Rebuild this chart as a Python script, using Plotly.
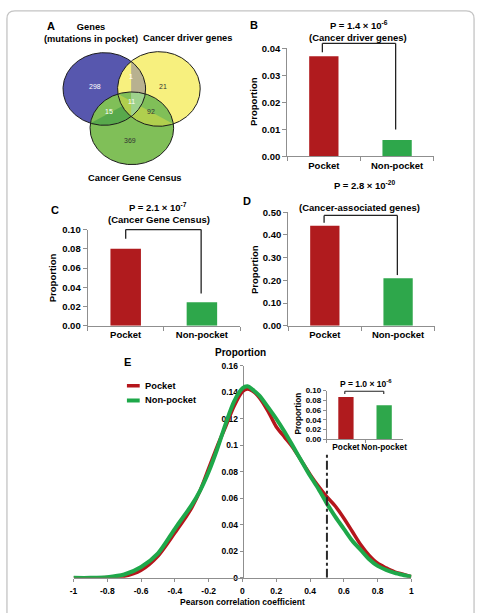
import numpy as np
import plotly.graph_objects as go

W, H = 481, 613

# ---------------- data ----------------
venn_labels = ["Genes<br>(mutations in pocket)", "Cancer driver genes", "Cancer Gene Census"]
venn_blue_only, venn_blue_yellow, venn_yellow_only = 298, 1, 21
venn_triple, venn_blue_green, venn_yellow_green, venn_green_only = 11, 15, 92, 369

groups = ["Pocket", "Non-pocket"]
driver_prop = [0.037, 0.006]
census_prop = [0.080, 0.0245]
assoc_prop = [0.44, 0.21]
inset_prop = [0.087, 0.070]

p_driver = "P = 1.4 × 10<sup>-6</sup>"
p_census = "P = 2.1 × 10<sup>-7</sup>"
p_assoc = "P = 2.8 × 10<sup>-20</sup>"
p_inset = "P = 1.0 × 10<sup>-6</sup>"

corr_x = [-1.0, -0.9, -0.8, -0.7, -0.6, -0.5, -0.4, -0.35, -0.3, -0.25, -0.2, -0.15, -0.1,
          -0.05, 0.0, 0.03, 0.06, 0.1, 0.15, 0.2, 0.25, 0.3, 0.35, 0.4, 0.45, 0.5, 0.55,
          0.6, 0.65, 0.7, 0.75, 0.8, 0.85, 0.9, 0.95, 1.0]
pocket_density = [0.0, 0.0, 0.0002, 0.0012, 0.0058, 0.0165, 0.034, 0.043, 0.053, 0.066, 0.0825,
                  0.099, 0.114, 0.1295, 0.1405, 0.1425, 0.141, 0.136, 0.126, 0.114, 0.106, 0.098,
                  0.088, 0.078, 0.069, 0.061, 0.054, 0.045, 0.035, 0.025, 0.017, 0.011, 0.0075,
                  0.0045, 0.0027, 0.0008]
nonpocket_density = [0.0, 0.0, 0.0005, 0.0025, 0.0082, 0.0185, 0.037, 0.046, 0.055, 0.066, 0.080,
                     0.097, 0.116, 0.133, 0.143, 0.1445, 0.142, 0.1375, 0.129, 0.120, 0.110, 0.099,
                     0.088, 0.077, 0.067, 0.056, 0.046, 0.037, 0.028, 0.021, 0.014, 0.009, 0.006,
                     0.0038, 0.0022, 0.0008]
e_xticks = [-1, -0.8, -0.6, -0.4, -0.2, 0, 0.2, 0.4, 0.6, 0.8, 1]
e_xtick_labels = ["-1", "-0.8", "-0.6", "-0.4", "-0.2", "0", "0.2", "0.4", "0.6", "0.8", "1"]
cutoff = 0.5

# ---------------- styles ----------------
FONT = "Liberation Sans, Arial, sans-serif"
RED_BAR, GREEN_BAR = "#b01b1e", "#2ea74b"
RED_LINE, GREEN_LINE = "#b5161c", "#1ea84a"
AX = "#8f8f8f"


def px(x):
    return x / W


def py(y):
    return 1 - y / H


fig = go.Figure()
annotations = []
shapes = []


def ann(text, x, y, size=9.5, bold=True, angle=0, color="black", xanchor="center", ref=None):
    d = dict(text=text, showarrow=False, textangle=angle, xanchor=xanchor, yanchor="middle",
             font=dict(family=FONT, size=size, color=color, weight="bold" if bold else "normal"))
    if ref is None:
        d.update(x=px(x), y=py(y), xref="paper", yref="paper")
    else:
        d.update(x=x, y=y, xref=ref[0], yref=ref[1])
    annotations.append(d)


# ---------------- Venn (panel A) ----------------
def ellipse(cx, cy, rx, ry, n=400):
    t = np.linspace(0, 2 * np.pi, n, endpoint=False)
    return np.column_stack([cx + rx * np.cos(t), cy + ry * np.sin(t)])


def clip_ellipse(poly, e):
    cx, cy, rx, ry = e
    c = np.array([cx, cy]); r = np.array([rx, ry])

    def f(p):
        return np.sum(((p - c) / r) ** 2)

    def inter(p, q):
        a0 = (p - c) / r; d = (q - p) / r
        A = d @ d; B = 2 * a0 @ d; C = a0 @ a0 - 1
        disc = max(B * B - 4 * A * C, 0.0)
        for t in ((-B - np.sqrt(disc)) / (2 * A), (-B + np.sqrt(disc)) / (2 * A)):
            if -1e-9 <= t <= 1 + 1e-9:
                return p + t * (q - p)
        return q

    out = []
    n = len(poly)
    for i in range(n):
        p, q = poly[i - 1], poly[i]
        ip, iq = f(p) <= 1, f(q) <= 1
        if iq:
            if not ip:
                out.append(inter(p, q))
            out.append(q)
        elif ip:
            out.append(inter(p, q))
    return np.array(out)


E_BLUE = (102, 84.5, 42, 37)
E_YEL = (157.5, 84.5, 42, 38)
E_GRN = (130, 124.5, 42.5, 37)

pb, pyl, pg = ellipse(*E_BLUE), ellipse(*E_YEL), ellipse(*E_GRN)
regions = [
    (pb, "#5757ae"), (pyl, "#f7f07e"), (pg, "#80bf58"),
    (clip_ellipse(pb, E_YEL), "#b8b190"),
    (clip_ellipse(pb, E_GRN), "#58a94c"),
    (clip_ellipse(pyl, E_GRN), "#b0cf4e"),
    (clip_ellipse(clip_ellipse(pb, E_YEL), E_GRN), "#9ed28c"),
]
for poly, col in regions:
    xs = list(poly[:, 0]) + [poly[0, 0]]
    ys = list(poly[:, 1]) + [poly[0, 1]]
    fig.add_trace(go.Scatter(x=xs, y=ys, mode="lines", fill="toself", fillcolor=col,
                             line=dict(width=0, color=col), hoverinfo="skip",
                             showlegend=False, xaxis="x6", yaxis="y6"))
for poly in (pb, pyl, pg):
    xs = list(poly[:, 0]) + [poly[0, 0]]
    ys = list(poly[:, 1]) + [poly[0, 1]]
    fig.add_trace(go.Scatter(x=xs, y=ys, mode="lines", line=dict(width=1, color="#1c1c1c"),
                             hoverinfo="skip", showlegend=False, xaxis="x6", yaxis="y6"))

vref = ("x6", "y6")
for val, (x, y), col in [
    (venn_blue_only, (93, 82), "white"), (venn_blue_yellow, (129, 72), "white"),
    (venn_yellow_only, (162, 82), "#333333"), (venn_triple, (129.5, 97), "white"),
    (venn_blue_green, (107, 107.5), "white"), (venn_yellow_green, (149.5, 107.5), "#333333"),
    (venn_green_only, (128.5, 137), "#333333")]:
    ann(str(val), x, y, size=7, bold=False, color=col, ref=vref)

ann("A", 48, 20, size=11)
ann(venn_labels[0], 88, 28, size=9.3)
ann(venn_labels[1], 187, 33, size=9.3)
ann(venn_labels[2], 133, 175, size=9.3)

# ---------------- bar panels ----------------
def bar_panel(ax, vals):
    fig.add_trace(go.Bar(x=groups, y=vals, marker=dict(color=[RED_BAR, GREEN_BAR], line=dict(width=0)),
                         width=0.4, showlegend=False, hoverinfo="skip",
                         xaxis="x" + ax, yaxis="y" + ax))


bar_panel("", driver_prop)
bar_panel("2", census_prop)
bar_panel("3", assoc_prop)
bar_panel("5", inset_prop)


def bracket(ax, yrange, xl, xr, ytop, yl, yr, w=1.3):
    xa = "x" + ax + " domain"; ya = "y" + ax + " domain"
    fx = lambda v: (v + 0.5) / 2.0
    fy = lambda v: (v - yrange[0]) / (yrange[1] - yrange[0])
    for x0, y0, x1, y1 in [(xl, yl, xl, ytop), (xl, ytop, xr, ytop), (xr, ytop, xr, yr)]:
        shapes.append(dict(type="line", xref=xa, yref=ya, x0=fx(x0), y0=fy(y0), x1=fx(x1), y1=fy(y1),
                           line=dict(color="#222222", width=w)))


bracket("", [0, 0.04], -0.02, 0.98, 0.0418, 0.0385, 0.0099)
bracket("2", [0, 0.1], 0.0, 0.99, 0.1, 0.0905, 0.0337)
bracket("3", [0, 0.5], -0.01, 0.99, 0.486, 0.454, 0.2234)
bracket("5", [0, 0.1], -0.03, 0.99, 0.0988, 0.0933, 0.0933, w=1.1)

ann("B", 254, 19.5, size=11)
ann(p_driver, 361, 19, size=9.5)
ann("(Cancer driver genes)", 360, 32, size=9.5)
ann("Proportion", 253, 97, size=9.5, angle=-90)

ann("C", 52, 208, size=11)
ann(p_census, 157, 205, size=9.5)
ann("(Cancer Gene Census)", 158, 217, size=9.5)
ann("Proportion", 49, 277, size=9.5, angle=-90)

ann("D", 247, 199, size=11)
ann(p_assoc, 367, 182, size=9.5)
ann("(Cancer-associated genes)", 362, 205, size=9.5)
ann("Proportion", 254, 268, size=9.5, angle=-90)

ann(p_inset, 368, 384, size=8.5)
ann("Proportion", 300, 415, size=8.2, angle=-90)

# ---------------- density panel E ----------------
fig.add_trace(go.Scatter(x=corr_x, y=pocket_density, mode="lines", name="Pocket",
                         line=dict(color=RED_LINE, width=3.5, shape="spline", smoothing=0.8),
                         showlegend=False, hoverinfo="skip", xaxis="x4", yaxis="y4"))
fig.add_trace(go.Scatter(x=corr_x, y=nonpocket_density, mode="lines", name="Non-pocket",
                         line=dict(color=GREEN_LINE, width=4, shape="spline", smoothing=0.8),
                         showlegend=False, hoverinfo="skip", xaxis="x4", yaxis="y4"))
shapes.append(dict(type="line", xref="x4", yref="y4", x0=cutoff, x1=cutoff, y0=0, y1=0.094,
                   line=dict(color="#2a2a2a", width=2, dash="dashdot")))

ann("E", 126, 362, size=11)
ann("Proportion", 240, 353, size=10)
# manual legend
shapes.append(dict(type="line", xref="paper", yref="paper", x0=px(125), x1=px(138), y0=py(386.7), y1=py(386.7),
                   line=dict(color=RED_LINE, width=3.5)))
shapes.append(dict(type="line", xref="paper", yref="paper", x0=px(125), x1=px(138), y0=py(401.7), y1=py(401.7),
                   line=dict(color=GREEN_LINE, width=4)))
ann("Pocket", 141.5, 386.7, size=9.3, xanchor="left")
ann("Non-pocket", 141.5, 401.7, size=9.3, xanchor="left")

# frame
x0, x1, yt = px(3), px(478), py(5)
rx, ry = 8 / W, 8 / H
shapes.append(dict(type="path", xref="paper", yref="paper",
                   path=f"M {x0},-0.05 L {x0},{yt - ry} Q {x0},{yt} {x0 + rx},{yt} L {x1 - rx},{yt} "
                        f"Q {x1},{yt} {x1},{yt - ry} L {x1},-0.05",
                   line=dict(color="#c4c4c4", width=1.3)))

# ---------------- axes ----------------
def bar_axes(xd, yd, rng, dtick, fsize=9.5, cat_size=9.5, ticklen=4):
    xa = dict(domain=xd, range=[-0.5, 1.5], type="category", showline=True, linecolor=AX, linewidth=1,
              ticks="outside", tickson="boundaries", ticklen=ticklen, tickcolor=AX, showgrid=False,
              zeroline=False, tickangle=0,
              tickfont=dict(family=FONT, size=cat_size, color="black", weight="bold"),
              fixedrange=True)
    ya = dict(domain=yd, range=rng, dtick=dtick, tickformat=".2f", showline=True, linecolor=AX,
              linewidth=1, ticks="outside", ticklen=ticklen, tickcolor=AX, showgrid=False, zeroline=False,
              tickfont=dict(family=FONT, size=fsize, color="black", weight="bold"), fixedrange=True)
    return xa, ya


xa1, ya1 = bar_axes([px(288), px(437)], [py(153), py(43)], [0, 0.04], 0.01)
xa2, ya2 = bar_axes([px(85), px(240)], [py(325.7), py(227.7)], [0, 0.1], 0.02)
xa3, ya3 = bar_axes([px(289), px(438)], [py(325.7), py(210)], [0, 0.5], 0.1)
xa5, ya5 = bar_axes([px(328.3), px(406)], [py(441), py(391.7)], [0, 0.1], 0.02, fsize=8, cat_size=8.3,
                    ticklen=3)
xa1.update(anchor="y"); ya1.update(anchor="x")
xa2.update(anchor="y2"); ya2.update(anchor="x2")
xa3.update(anchor="y3"); ya3.update(anchor="x3")
xa5.update(anchor="y5"); ya5.update(anchor="x5")

xa4 = dict(domain=[px(70.7), px(414.3)], range=[-1, 1], anchor="y4", tickvals=e_xticks, ticktext=e_xtick_labels,
           showline=True, linecolor=AX, linewidth=1, ticks="outside", ticklen=3, tickcolor=AX,
           showgrid=False, zeroline=False, fixedrange=True, ticklabelstandoff=2,
           tickfont=dict(family=FONT, size=8.5, color="black", weight="bold"),
           title=dict(text="Pearson correlation coefficient", standoff=3,
                      font=dict(family=FONT, size=8.5, color="black", weight="bold")))
ya4 = dict(domain=[py(582.3), py(366.3)], range=[0, 0.16], dtick=0.02, anchor="free", position=px(242.7),
           showline=True, linecolor=AX, linewidth=1, ticks="outside", ticklen=3, tickcolor=AX,
           showgrid=False, zeroline=False, layer="below traces", fixedrange=True,
           tickfont=dict(family=FONT, size=8.5, color="black", weight="bold"))

xa6 = dict(domain=[0, px(240)], range=[0, 240], visible=False, anchor="y6", fixedrange=True)
ya6 = dict(domain=[py(200), 1], range=[200, 0], visible=False, anchor="x6", fixedrange=True)

fig.update_layout(
    width=W, height=H, margin=dict(l=0, r=0, t=0, b=0),
    paper_bgcolor="white", plot_bgcolor="rgba(0,0,0,0)",
    font=dict(family=FONT, color="black"),
    xaxis=xa1, yaxis=ya1, xaxis2=xa2, yaxis2=ya2, xaxis3=xa3, yaxis3=ya3,
    xaxis4=xa4, yaxis4=ya4, xaxis5=xa5, yaxis5=ya5, xaxis6=xa6, yaxis6=ya6,
    annotations=annotations, shapes=shapes, showlegend=False, bargap=0.6,
)

fig.write_html("out.html")
